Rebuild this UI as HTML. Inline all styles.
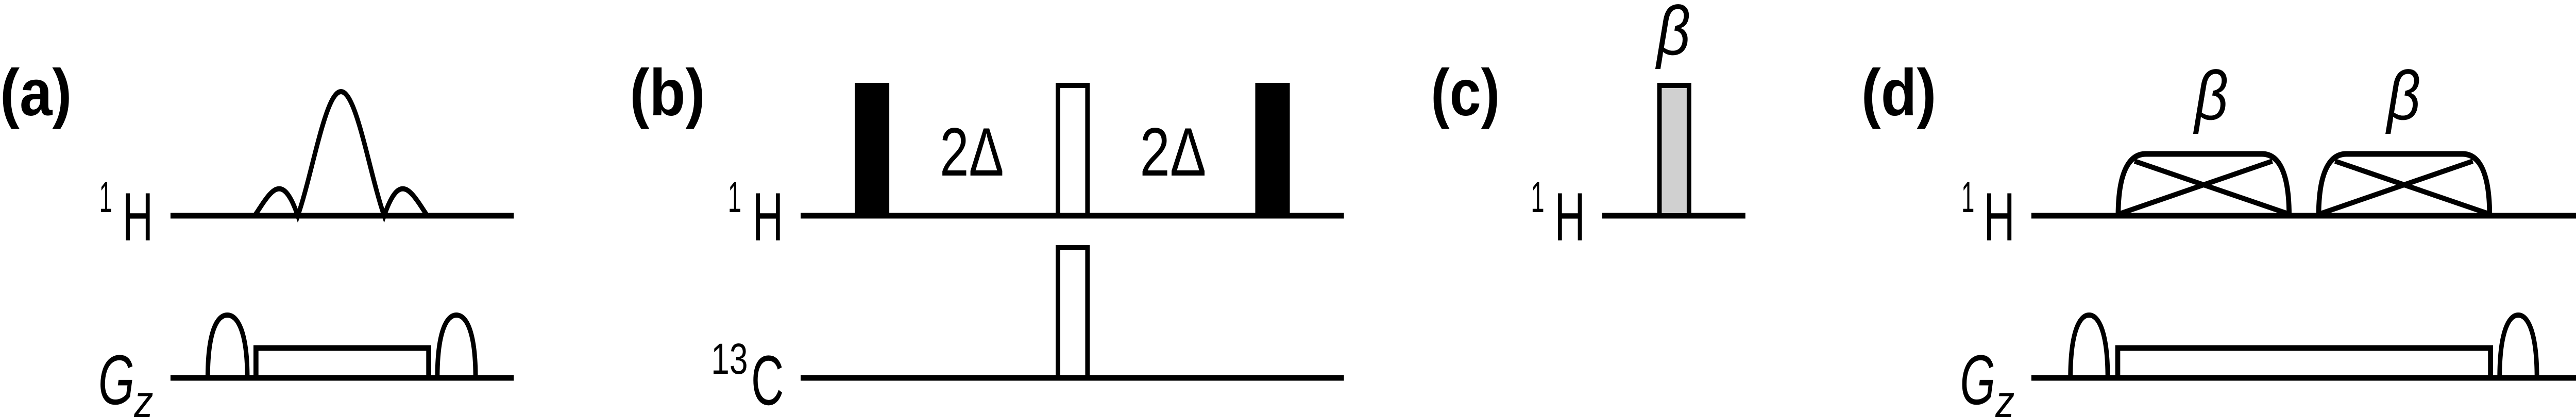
<!DOCTYPE html>
<html><head><meta charset="utf-8"><style>
html,body{margin:0;padding:0;background:#fff;overflow:hidden;width:100%;height:100%;}
svg{display:block;width:100vw;height:100vh;}
text{font-family:"Liberation Sans Narrow","Liberation Sans",sans-serif;fill:#000;}
.lbl{font-weight:bold;}
</style></head><body>
<svg id="fig" viewBox="0 0 5666 810" preserveAspectRatio="none" xmlns="http://www.w3.org/2000/svg">
<g fill="none" stroke="#000" stroke-width="11">
<g>
<line x1="375" y1="419" x2="1130" y2="419"/>
<path id="sinc" d="" stroke-width="10"/>
<line x1="375" y1="734" x2="1130" y2="734"/>
<path d="M457 734 C457 650 475 612 500 612 C525 612 544 650 544 734" stroke-width="10"/>
<rect x="563" y="676" width="380" height="58" stroke-width="11"/>
<path d="M962 734 C962 650 980 612 1004 612 C1028 612 1046 650 1046 734" stroke-width="10"/>
</g>
<g>
<line x1="1761" y1="419" x2="2956" y2="419"/>
<rect x="1880" y="161" width="76" height="258" fill="#000" stroke="none"/>
<rect x="2327" y="166" width="65" height="253" stroke-width="10"/>
<rect x="2761" y="161" width="76" height="258" fill="#000" stroke="none"/>
<line x1="1761" y1="734" x2="2956" y2="734"/>
<rect x="2327" y="481" width="65" height="253" stroke-width="10"/>
</g>
<g>
<line x1="3524" y1="419" x2="3839" y2="419"/>
<rect x="3650" y="166" width="65" height="253" fill="#d0d0d0" stroke-width="10"/>
</g>
<g>
<line x1="4468" y1="419" x2="5666" y2="419"/>
<path d="M4659 419 C4659 340 4680 299 4720 299 L4975 299 C5015 299 5035 340 5035 419" stroke-width="11"/>
<path d="M4663 415 L4998 313 M4695 313 L5032 415" stroke-width="10"/>
<path d="M5100 419 C5100 340 5121 299 5161 299 L5416 299 C5456 299 5476 340 5476 419" stroke-width="11"/>
<path d="M5104 415 L5439 313 M5136 313 L5473 415" stroke-width="10"/>
<line x1="4468" y1="734" x2="5666" y2="734"/>
<path d="M4554 734 C4554 650 4572 612 4595 612 C4618 612 4636 650 4636 734" stroke-width="10"/>
<rect x="4658" y="676" width="820" height="58" stroke-width="11"/>
<path d="M5498 734 C5498 650 5516 612 5539 612 C5562 612 5580 650 5580 734" stroke-width="10"/>
</g>
</g>
<text class="lbl" x="0" y="224" font-size="128" textLength="158" lengthAdjust="spacingAndGlyphs">(a)</text>
<text class="lbl" x="1385" y="224" font-size="128" textLength="166" lengthAdjust="spacingAndGlyphs">(b)</text>
<text class="lbl" x="3147" y="224" font-size="128" textLength="152" lengthAdjust="spacingAndGlyphs">(c)</text>
<text class="lbl" x="4094" y="224" font-size="128" textLength="165" lengthAdjust="spacingAndGlyphs">(d)</text>

<g><text x="218" y="412" font-size="84" textLength="29" lengthAdjust="spacingAndGlyphs">1</text><text x="269" y="467" font-size="133" textLength="68" lengthAdjust="spacingAndGlyphs">H</text></g>
<g><text x="216" y="785" font-size="137" font-style="italic" textLength="80" lengthAdjust="spacingAndGlyphs">G</text><text x="295" y="810" font-size="88" font-style="italic" textLength="42" lengthAdjust="spacingAndGlyphs">z</text></g>

<g><text x="1601" y="412" font-size="84" textLength="30" lengthAdjust="spacingAndGlyphs">1</text><text x="1655" y="467" font-size="133" textLength="68" lengthAdjust="spacingAndGlyphs">H</text></g>
<g><text x="1564" y="726" font-size="84" textLength="81" lengthAdjust="spacingAndGlyphs">13</text><text x="1652" y="786" font-size="137" textLength="72" lengthAdjust="spacingAndGlyphs">C</text></g>
<text x="2067" y="341" font-size="133" textLength="141" lengthAdjust="spacingAndGlyphs">2Δ</text>
<text x="2507" y="341" font-size="133" textLength="146" lengthAdjust="spacingAndGlyphs">2Δ</text>

<g><text x="3367" y="412" font-size="84" textLength="30" lengthAdjust="spacingAndGlyphs">1</text><text x="3419" y="467" font-size="133" textLength="68" lengthAdjust="spacingAndGlyphs">H</text></g>
<text x="3644" y="106" font-size="135" font-style="italic" textLength="74" lengthAdjust="spacingAndGlyphs">β</text>

<g><text x="4314" y="412" font-size="84" textLength="29" lengthAdjust="spacingAndGlyphs">1</text><text x="4363" y="467" font-size="133" textLength="69" lengthAdjust="spacingAndGlyphs">H</text></g>
<g><text x="4311" y="785" font-size="137" font-style="italic" textLength="78" lengthAdjust="spacingAndGlyphs">G</text><text x="4389" y="810" font-size="88" font-style="italic" textLength="42" lengthAdjust="spacingAndGlyphs">z</text></g>
<text x="4827" y="232" font-size="135" font-style="italic" textLength="74" lengthAdjust="spacingAndGlyphs">β</text>
<text x="5250" y="232" font-size="135" font-style="italic" textLength="74" lengthAdjust="spacingAndGlyphs">β</text>
</svg>
<script>
const sincCenter = 750;
const sincHalfWidth = 190;
const sincHeight = 241;
const baseY = 419;
(function(){
  let d = '';
  const n = 200;
  for (let i = 0; i <= n; i++) {
    const t = -2*Math.PI + 4*Math.PI*i/n;
    const v = Math.abs(t) < 1e-9 ? 1 : Math.abs(Math.sin(t)/t);
    const x = sincCenter + t/(2*Math.PI)*sincHalfWidth;
    const y = baseY - v*sincHeight;
    d += (i === 0 ? 'M' : 'L') + x.toFixed(1) + ' ' + y.toFixed(1) + ' ';
  }
  document.getElementById('sinc').setAttribute('d', d);
})();
</script>
</body></html>
